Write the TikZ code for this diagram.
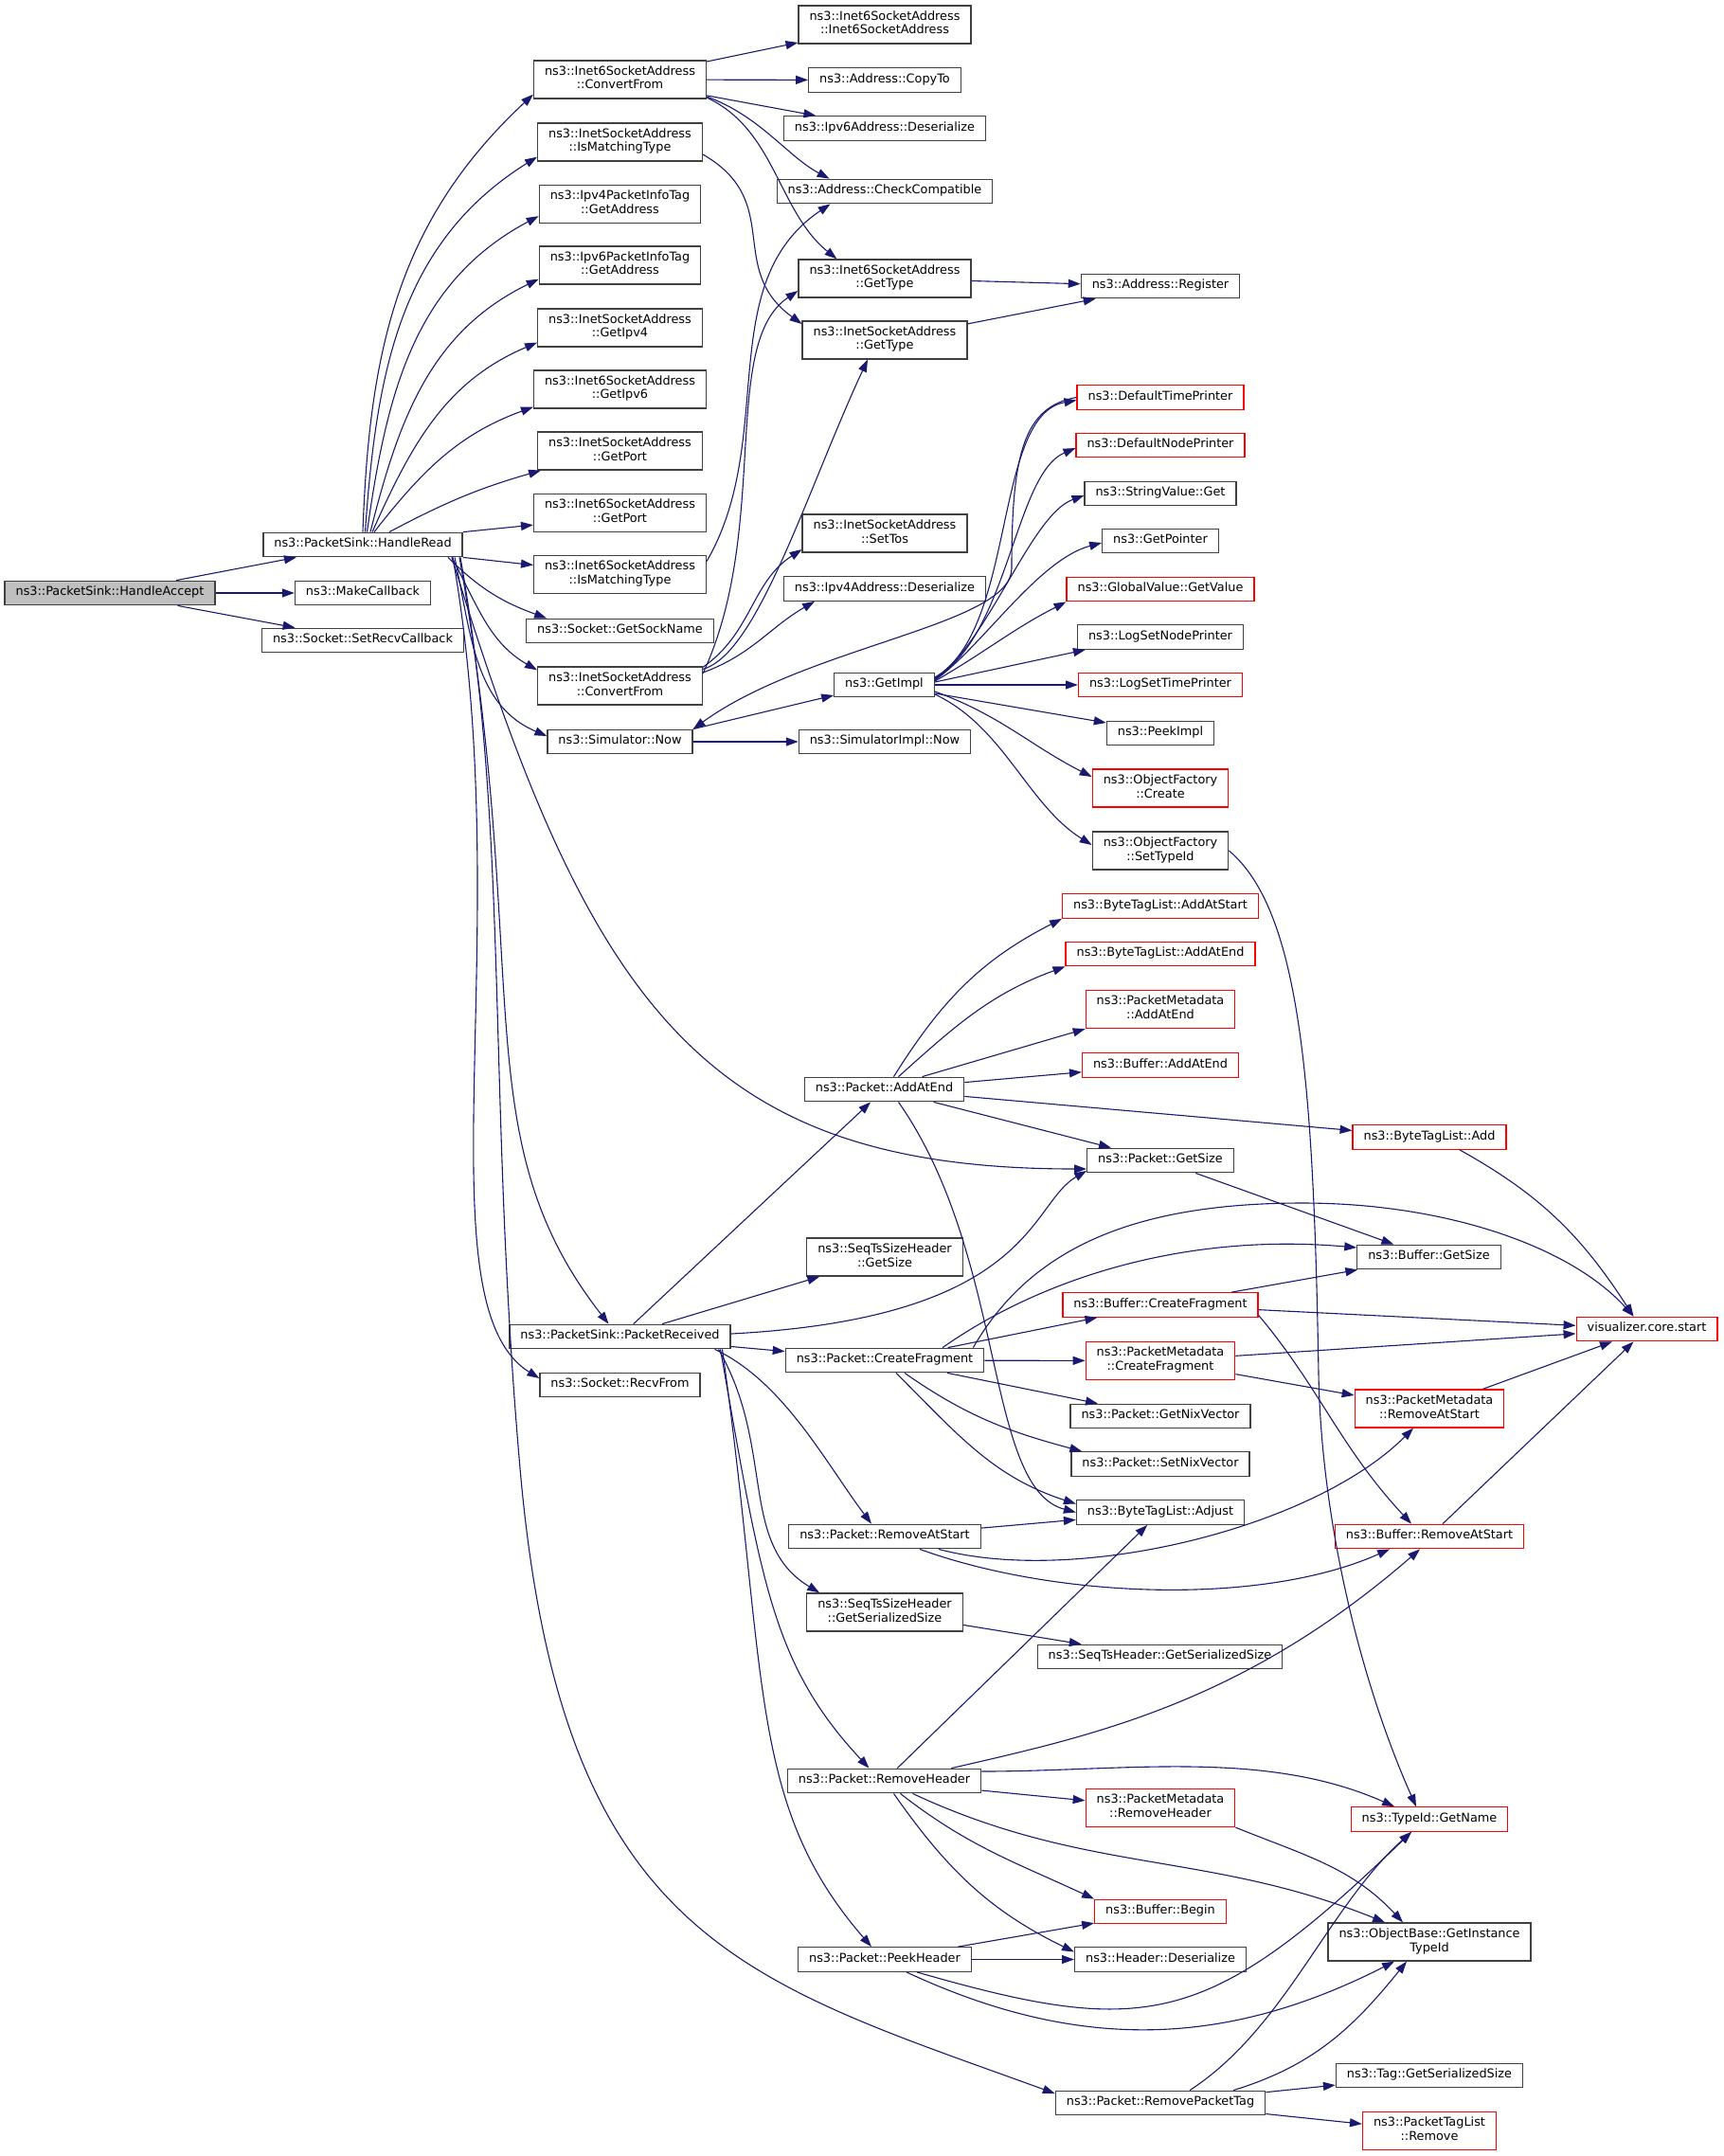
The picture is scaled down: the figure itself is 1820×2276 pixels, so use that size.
\documentclass[tikz,border=0pt]{standalone}
\usepackage{fontspec}
\usepackage{tikz}
\usetikzlibrary{arrows.meta}
\usetikzlibrary{calc}
\newfontfamily\graphfont{DejaVu Sans}

\begin{document}
\begin{tikzpicture}[x=1pt,y=1pt]
        \tikzset{>={Triangle[length=12.9pt,width=9pt]}}
        \definecolor{gedgecolor}{HTML}{191970}
        \definecolor{gstrokecolor}{HTML}{404040}
        \definecolor{gredcolor}{HTML}{FF0000}
        \definecolor{grootcolor}{HTML}{BFBFBF}
        \tikzstyle{every node}=[rectangle,fill=white,draw=gstrokecolor,text=black,line width=1.3pt,inner xsep=11.5pt,inner ysep=0pt,minimum height=25.5pt,align=center,font=\graphfont\fontsize{12.85pt}{14.6pt}\selectfont,execute at begin node=\strut,execute at end node=\strut]
        \tikzstyle{two}=[minimum height=40pt]
        \tikzstyle{nodoc}=[draw=gredcolor]
        \tikzstyle{call}=[->,draw=gedgecolor,line width=1.1pt]

        \path [use as bounding box,fill=white] (0,0) rectangle (1820,-2276);

        % callers
        \node [fill=grootcolor] (ha) at (116,-626) {ns3::PacketSink::HandleAccept};
        \node (hr) at (383,-575) {ns3::PacketSink::HandleRead};
        \node (mkcb) at (383,-626) {ns3::MakeCallback};
        \node (srcb) at (383,-676) {ns3::Socket::SetRecvCallback};

        \node [two] (i6cf) at (654.5,-84) {ns3::Inet6SocketAddress\\::ConvertFrom};
        \node [two] (i4ims) at (654.5,-150) {ns3::InetSocketAddress\\::IsMatchingType};
        \node [two] (v4pi) at (654.5,-215.5) {ns3::Ipv4PacketInfoTag\\::GetAddress};
        \node [two] (v6pi) at (654.5,-280) {ns3::Ipv6PacketInfoTag\\::GetAddress};
        \node [two] (i4ip) at (654.5,-346) {ns3::InetSocketAddress\\::GetIpv4};
        \node [two] (i6ip) at (654.5,-411) {ns3::Inet6SocketAddress\\::GetIpv6};
        \node [two] (i4port) at (654.5,-476) {ns3::InetSocketAddress\\::GetPort};
        \node [two] (i6port) at (654.5,-541.5) {ns3::Inet6SocketAddress\\::GetPort};
        \node [two] (i6ims) at (654.5,-606.5) {ns3::Inet6SocketAddress\\::IsMatchingType};
        \node (gsn) at (654.5,-666) {ns3::Socket::GetSockName};
        \node [two] (i4cf) at (654.5,-724) {ns3::InetSocketAddress\\::ConvertFrom};
        \node (snow) at (654.5,-783) {ns3::Simulator::Now};
        \node (prcv) at (654.5,-1411) {ns3::PacketSink::PacketReceived};
        \node (recv) at (654.5,-1462) {ns3::Socket::RecvFrom};

        \node [two] (i6ctor) at (934,-26) {ns3::Inet6SocketAddress\\::Inet6SocketAddress};
        \node (cpto) at (934,-84.5) {ns3::Address::CopyTo};
        \node (v6des) at (934,-135.5) {ns3::Ipv6Address::Deserialize};
        \node (cc) at (934,-202) {ns3::Address::CheckCompatible};
        \node [two] (i6gt) at (934,-294) {ns3::Inet6SocketAddress\\::GetType};
        \node [two] (i4gt) at (934,-359) {ns3::InetSocketAddress\\::GetType};
        \node [two] (stos) at (934,-563) {ns3::InetSocketAddress\\::SetTos};
        \node (v4des) at (934,-621.5) {ns3::Ipv4Address::Deserialize};
        \node (gimpl) at (933.5,-723) {ns3::GetImpl};
        \node (sinow) at (934,-783) {ns3::SimulatorImpl::Now};
        \node (adde) at (933.5,-1150) {ns3::Packet::AddAtEnd};
        \node [two] (sqgs) at (934,-1327) {ns3::SeqTsSizeHeader\\::GetSize};
        \node (cfrag) at (934,-1436) {ns3::Packet::CreateFragment};
        \node (pras) at (934,-1622) {ns3::Packet::RemoveAtStart};
        \node [two] (sqgss) at (934,-1702) {ns3::SeqTsSizeHeader\\::GetSerializedSize};
        \node (rmh) at (933.5,-1880) {ns3::Packet::RemoveHeader};
        \node (pkh) at (934,-2068.5) {ns3::Packet::PeekHeader};

        \node (areg) at (1225,-302) {ns3::Address::Register};
        \node [nodoc] (dtp) at (1225,-419.5) {ns3::DefaultTimePrinter};
        \node [nodoc] (dnp) at (1225,-470) {ns3::DefaultNodePrinter};
        \node (svg) at (1225,-521) {ns3::StringValue::Get};
        \node (gptr) at (1225,-571) {ns3::GetPointer};
        \node [nodoc] (gvgv) at (1225,-622) {ns3::GlobalValue::GetValue};
        \node (lsnp) at (1225,-672.5) {ns3::LogSetNodePrinter};
        \node [nodoc] (lstp) at (1225,-723) {ns3::LogSetTimePrinter};
        \node (pimpl) at (1225,-774) {ns3::PeekImpl};
        \node [two,nodoc] (ofc) at (1225,-832) {ns3::ObjectFactory\\::Create};
        \node [two] (ofst) at (1225,-898) {ns3::ObjectFactory\\::SetTypeId};
        \node [nodoc] (btas) at (1225,-956.5) {ns3::ByteTagList::AddAtStart};
        \node [nodoc] (btae) at (1225,-1007) {ns3::ByteTagList::AddAtEnd};
        \node [two,nodoc] (pmae) at (1225,-1065.5) {ns3::PacketMetadata\\::AddAtEnd};
        \node [nodoc] (bae) at (1225,-1124.5) {ns3::Buffer::AddAtEnd};
        \node (pgs) at (1225,-1225) {ns3::Packet::GetSize};
        \node [nodoc] (bcf) at (1225,-1377.5) {ns3::Buffer::CreateFragment};
        \node [two,nodoc] (pmcf) at (1225,-1436.5) {ns3::PacketMetadata\\::CreateFragment};
        \node (gnv) at (1225,-1495) {ns3::Packet::GetNixVector};
        \node (snv) at (1225,-1545.5) {ns3::Packet::SetNixVector};
        \node (bta) at (1225,-1596.5) {ns3::ByteTagList::Adjust};
        \node (sqhgs) at (1224.5,-1749) {ns3::SeqTsHeader::GetSerializedSize};
        \node [two,nodoc] (pmrh) at (1225,-1908.5) {ns3::PacketMetadata\\::RemoveHeader};
        \node [nodoc] (bbeg) at (1225,-2018) {ns3::Buffer::Begin};
        \node (hdes) at (1225,-2068.5) {ns3::Header::Deserialize};
        \node (rpt) at (1225,-2220) {ns3::Packet::RemovePacketTag};

        \node [nodoc] (btadd) at (1509,-1200.5) {ns3::ByteTagList::Add};
        \node (bgs) at (1508.5,-1327) {ns3::Buffer::GetSize};
        \node [two,nodoc] (pmras) at (1509,-1487) {ns3::PacketMetadata\\::RemoveAtStart};
        \node [nodoc] (bras) at (1509,-1622) {ns3::Buffer::RemoveAtStart};
        \node [nodoc] (tgn) at (1509,-1920.5) {ns3::TypeId::GetName};
        \node [two] (obgi) at (1509,-2050) {ns3::ObjectBase::GetInstance\\TypeId};
        \node (tgss) at (1509,-2191) {ns3::Tag::GetSerializedSize};
        \node [two,nodoc] (ptlr) at (1509,-2249.5) {ns3::PacketTagList\\::Remove};

        \node [nodoc] (vcs) at (1738.5,-1403) {visualizer.core.start};

        % HandleAccept
        \draw [call] (ha) -- (hr);
        \draw [call] (ha) -- (mkcb);
        \draw [call] (ha) -- (srcb);

        % HandleRead
        \draw [call] (hr.north) to[out=88,in=223] ($(i6cf.south west)+(0,5)$);
        \draw [call] ($(hr.north)+(2.5,0)$) to[out=86,in=212] ($(i4ims.south west)+(0,5)$);
        \draw [call] ($(hr.north)+(4.5,0)$) to[out=82,in=208] ($(v4pi.south west)+(0,8)$);
        \draw [call] ($(hr.north)+(8,0)$) to[out=76,in=206] ($(v6pi.south west)+(0,6)$);
        \draw [call] ($(hr.north)+(10,0)$) to[out=66,in=203] ($(i4ip.south west)+(0,5)$);
        \draw [call] ($(hr.north)+(12,0)$) to[out=52,in=200] ($(i6ip.south west)+(0,2)$);
        \draw [call] ($(hr.north)+(28,0)$) to[out=28,in=196] ($(i4port.south west)+(4,0)$);
        \draw [call] (hr.north east) -- ($(i6port.south west)+(0,8)$);
        \draw [call] (hr.south east) -- ($(i6ims.west)+(0,10)$);
        \draw [call] ($(hr.south)+(90,0)$) to[out=-45,in=160] ($(gsn.north west)+(22,0)$);
        \draw [call] ($(hr.south)+(94,0)$) to[out=-62,in=150] ($(i4cf.north west)+(0,-4)$);
        \draw [call] ($(hr.south)+(97,0)$) to[out=-78,in=157] ($(snow.west)+(0,6)$);
        \draw [call] ($(hr.south)+(94,0)$) to[out=-73,in=180,out distance=500pt,in distance=400pt] ($(pgs.west)+(0,-9)$);
        \draw [call] ($(hr.south)+(102,0)$) to[out=-80,in=128,out distance=450pt,in distance=250pt] ($(prcv.north)+(-12,0)$);
        \draw [call] ($(hr.south)+(95,0)$) to[out=-80,in=148,out distance=400pt,in distance=150pt] ($(recv.west)+(0,7)$);
        \draw [call] ($(hr.south)+(103,0)$) to[out=-80,in=95,out distance=300pt,in distance=400pt] (549,-1550)
                to[out=-85,in=160,out distance=500pt,in distance=350pt] ($(rpt.west)+(0,10)$);

        % address helpers
        \draw [call] (i6cf) -- (i6ctor);
        \draw [call] (i6cf) -- (cpto);
        \draw [call] (i6cf) -- (v6des);
        \draw [call] ($(i6cf.east)+(0,-18)$) to[out=-20,in=152,out distance=60pt,in distance=50pt] ($(cc.north west)+(56,0)$);
        \draw [call] ($(i6cf.east)+(0,-19)$) to[out=-25,in=141,out distance=80pt,in distance=80pt] ($(i6gt.north west)+(41,0)$);
        \draw [call] ($(i4ims.east)+(0,-13)$) to[out=-30,in=144,out distance=100pt,in distance=100pt] ($(i4gt.west)+(0,17)$);
        \draw [call] ($(i6ims.east)+(0,14)$) to[out=60,in=214,out distance=150pt,in distance=150pt] ($(cc.south west)+(57,0)$);
        \draw [call] ($(i4cf.east)+(0,13)$) to[out=65,in=214,out distance=170pt,in distance=100pt] ($(i6gt.west)+(0,-13)$);
        \draw [call] ($(i4cf.north east)+(0,-3)$) to[out=15,in=245,out distance=60pt,in distance=150pt] ($(i4gt.south)+(-18,0)$);
        \draw [call] ($(i4cf.north east)+(0,-1)$) to[out=35,in=213] ($(stos.west)+(0,-17)$);
        \draw [call] ($(i4cf.east)+(0,14)$) to[out=20,in=210] ($(v4des.south)+(-74,0)$);
        \draw [call] (i6gt) -- (areg);
        \draw [call] (i4gt) -- (areg);

        % Simulator::Now and GetImpl
        \draw [call] (snow.north east) -- ($(gimpl.west)+(0,-11)$);
        \draw [call] (snow) -- (sinow);
        \draw [call] (dtp.west) to[out=190,in=90,out distance=57pt,in distance=120pt] (1068,-600)
                to[out=-90,in=36,out distance=60pt,in distance=150pt] (snow.north east);
        \draw [call] ($(gimpl.east)+(0,8)$) to[out=30,in=190,out distance=100pt,in distance=90pt] ($(dtp.west)+(0,-3)$);
        \draw [call] ($(gimpl.east)+(0,7)$) to[out=30,in=203,out distance=90pt,in distance=70pt] ($(dnp.west)+(0,-3)$);
        \draw [call] ($(gimpl.east)+(0,6)$) to[out=35,in=200,out distance=70pt,in distance=60pt] ($(svg.west)+(0,-2)$);
        \draw [call] ($(gimpl.east)+(0,5)$) to[out=35,in=195,out distance=60pt,in distance=70pt] ($(gptr.west)+(0,-2)$);
        \draw [call] ($(gimpl.east)+(0,4)$) to[out=30,in=207] (gvgv.south west);
        \draw [call] ($(gimpl.east)+(0,3)$) -- ($(lsnp.south west)+(9,0)$);
        \draw [call] (gimpl) -- (lstp);
        \draw [call] ($(gimpl.east)+(0,-9)$) -- ($(pimpl.west)+(0,11)$);
        \draw [call] ($(gimpl.east)+(0,-7)$) to[out=-20,in=153] ($(ofc.west)+(0,12)$);
        \draw [call] ($(gimpl.east)+(0,-10)$) to[out=-25,in=148,out distance=80pt,in distance=80pt] ($(ofst.west)+(0,6)$);
        \draw [call] (ofst.east) to[out=-40,in=91,out distance=100pt,in distance=300pt] (1392,-1450)
                to[out=-89,in=114,out distance=150pt,in distance=150pt] ($(tgn.north)+(-14,0)$);

        % PacketSink::PacketReceived
        \draw [call] (prcv) -- (adde);
        \draw [call] (prcv) -- (sqgs);
        \draw [call] (prcv) -- (cfrag);
        \draw [call] ($(prcv.east)+(0,3)$) to[out=3,in=210,out distance=320pt,in distance=70pt] ($(pgs.west)+(0,-11)$);
        \draw [call] ($(prcv.south)+(100,0)$) to[out=-25,in=127,out distance=80pt,in distance=80pt] ($(pras.north)+(-14,0)$);
        \draw [call] ($(prcv.south)+(104,0)$) to[out=-60,in=149,out distance=120pt,in distance=100pt] ($(sqgss.north west)+(14,0)$);
        \draw [call] ($(prcv.south)+(106,0)$) to[out=-80,in=133,out distance=250pt,in distance=150pt] ($(rmh.north)+(-16,0)$);
        \draw [call] ($(prcv.south)+(108,0)$) to[out=-82,in=131,out distance=350pt,in distance=200pt] ($(pkh.north)+(-14,0)$);

        % Packet::AddAtEnd
        \draw [call] ($(adde.north)+(10,0)$) to[out=58,in=207] (btas.south west);
        \draw [call] ($(adde.north)+(15,0)$) to[out=42,in=200] (btae.south west);
        \draw [call] ($(adde.north)+(40,0)$) -- (pmae.south west);
        \draw [call] (adde) -- (bae);
        \draw [call] (adde) -- (btadd);
        \draw [call] (adde) -- (pgs);
        \draw [call] ($(adde.south)+(15,0)$) to[out=-55,in=165,out distance=200pt,in distance=100pt] (bta.west);

        % Packet::CreateFragment
        \draw [call] (cfrag) -- (bcf);
        \draw [call] (cfrag) -- (pmcf);
        \draw [call] (cfrag) -- (gnv);
        \draw [call] ($(cfrag.south)+(21,0)$) to[out=-35,in=165] ($(snv.north west)+(12,0)$);
        \draw [call] ($(cfrag.south)+(12,0)$) to[out=-45,in=162] ($(bta.west)+(0,9)$);
        \draw [call] ($(cfrag.north)+(61,0)$) to[out=35,in=175,out distance=130pt,in distance=180pt] ($(bgs.west)+(0,10)$);
        \draw [call] ($(cfrag.north east)+(-12,0)$) to[out=60,in=180,out distance=120pt,in distance=180pt] (1375,-1270)
                to[out=0,in=132,out distance=150pt,in distance=100pt] ($(vcs.north)+(-14,0)$);

        % buffers, metadata and tags
        \draw [call] (pgs) -- (bgs);
        \draw [call] ($(btadd.south)+(32,0)$) to[out=-29,in=123] ($(vcs.north)+(-14,0)$);
        \draw [call] (bcf) -- (bgs);
        \draw [call] (bcf) -- (vcs);
        \draw [call] ($(bcf.east)+(0,-11)$) to[out=-50,in=133,out distance=100pt,in distance=110pt] ($(bras.north)+(-19,0)$);
        \draw [call] (pmcf) -- (vcs);
        \draw [call] (pmcf) -- (pmras);
        \draw [call] (pmras) -- (vcs);
        \draw [call] (bras) -- (vcs);

        % Packet::RemoveAtStart
        \draw [call] (pras) -- (bta);
        \draw [call] ($(pras.south)+(57,0)$) to[out=-15,in=225,out distance=150pt,in distance=150pt] ($(pmras.south)+(-17,0)$);
        \draw [call] ($(pras.south)+(37,0)$) to[out=-20,in=204,out distance=150pt,in distance=150pt] ($(bras.south)+(-42,0)$);
        \draw [call] (sqgss) -- (sqhgs);

        % Packet::RemoveHeader
        \draw [call] (rmh) -- (bta);
        \draw [call] ($(rmh.north east)+(-32,0)$) to[out=13,in=221,out distance=150pt,in distance=250pt] ($(bras.south)+(-10,0)$);
        \draw [call] ($(rmh.east)+(0,10)$) to[out=0,in=156,out distance=150pt,in distance=150pt] ($(tgn.north)+(-37,0)$);
        \draw [call] (rmh) -- (pmrh);
        \draw [call] ($(rmh.south)+(30,0)$) to[out=-25,in=158] ($(obgi.north)+(-47,0)$);
        \draw [call] ($(rmh.south)+(17,0)$) to[out=-38,in=155] (bbeg.north west);
        \draw [call] ($(rmh.south)+(10,0)$) to[out=-55,in=154] ($(hdes.west)+(0,8)$);
        \draw [call] (pmrh.south east) to[out=-22,in=133] ($(obgi.north)+(-28,0)$);

        % Packet::PeekHeader
        \draw [call] (pkh) -- (bbeg);
        \draw [call] (pkh) -- (hdes);
        \draw [call] ($(pkh.south)+(34,0)$) to[out=-16,in=224,out distance=250pt,in distance=300pt] ($(tgn.south)+(-19,0)$);
        \draw [call] ($(pkh.south)+(23,0)$) to[out=-25,in=207,out distance=200pt,in distance=200pt] ($(obgi.south)+(-37,0)$);

        % Packet::RemovePacketTag
        \draw [call] ($(rpt.north)+(31,0)$) to[out=33,in=222,out distance=120pt,in distance=120pt] ($(tgn.south)+(-19,0)$);
        \draw [call] ($(rpt.north)+(77,0)$) to[out=17,in=231] ($(obgi.south)+(-24,0)$);
        \draw [call] (rpt) -- (tgss);
        \draw [call] (rpt) -- (ptlr);
\end{tikzpicture}
\end{document}
